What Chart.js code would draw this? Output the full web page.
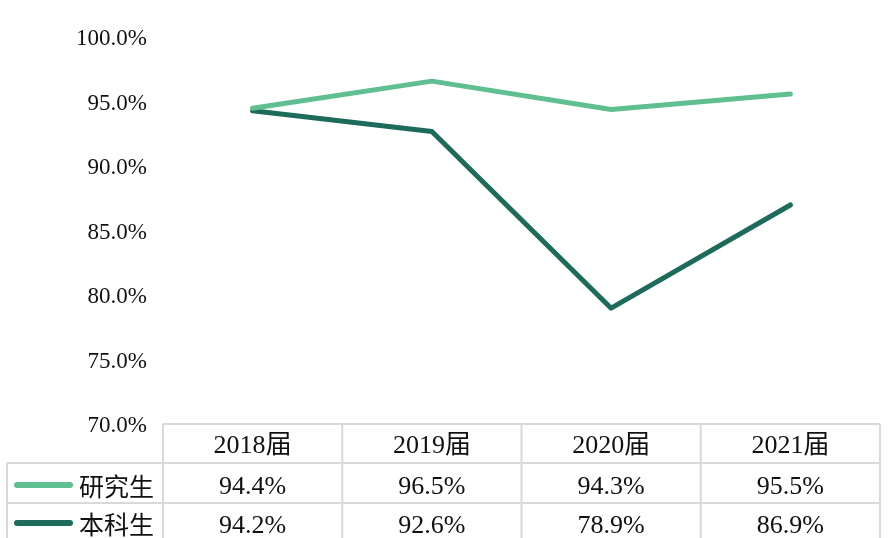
<!DOCTYPE html>
<html>
<head>
<meta charset="utf-8">
<script src="https://cdn.jsdelivr.net/npm/chart.js@4"></script>
<style>
  html, body { margin: 0; padding: 0; background: #fff; }
  #wrap { width: 891px; height: 538px; }
</style>
</head>
<body>
<div id="wrap"><canvas id="rate-chart"></canvas></div>
<script>
'use strict';

// *************** DATA
let categories = ['2018届', '2019届', '2020届', '2021届'];
let seriesNames = ['研究生', '本科生'];
let gradRates = [94.4, 96.5, 94.3, 95.5];
let undergradRates = [94.2, 92.6, 78.9, 86.9];
let yMin = 70;
let yMax = 100;
let yStep = 5;

let lightGreen = '#5fbf91';
let darkTeal = '#1c6b5b';
let serifFont = '"Liberation Serif", "Noto Sans CJK SC", serif';

// ************** TABLE UNDER THE CHART
let tablePlugin = {
  id: 'dataTable',
  afterDraw(chart) {
    let c = chart.ctx;
    let area = chart.chartArea;
    let x = chart.scales.x;
    let top = area.bottom + 1;
    let rowLines = [top, top + 39, top + 79, top + 120];
    let legendLeft = 7;

    // column edges
    let edges = [area.left];
    for (let i = 0; i < categories.length - 1; i++) {
      edges.push((x.getPixelForValue(i) + x.getPixelForValue(i + 1)) / 2);
    }
    edges.push(area.right);

    c.save();
    c.strokeStyle = '#d9d9d9';
    c.lineWidth = 2;
    c.beginPath();
    // header top
    c.moveTo(area.left, rowLines[0]);
    c.lineTo(area.right, rowLines[0]);
    // row separators
    for (let r = 1; r < 3; r++) {
      c.moveTo(legendLeft, rowLines[r]);
      c.lineTo(area.right, rowLines[r]);
    }
    for (let e of edges) {
      c.moveTo(e, rowLines[0]);
      c.lineTo(e, rowLines[3]);
    }
    c.moveTo(legendLeft, rowLines[1]);
    c.lineTo(legendLeft, rowLines[3]);
    c.stroke();

    c.fillStyle = '#111';
    c.textAlign = 'center';
    c.textBaseline = 'middle';
    c.font = '26px ' + serifFont;
    for (let i = 0; i < categories.length; i++) {
      let cx = x.getPixelForValue(i);
      c.fillText(categories[i], cx, rowLines[0] + 22);
      c.fillText(gradRates[i].toFixed(1) + '%', cx, rowLines[1] + 24);
      c.fillText(undergradRates[i].toFixed(1) + '%', cx, rowLines[2] + 23);
    }

    // legend cells
    let colors = [lightGreen, darkTeal];
    let rowMids = [rowLines[1] + 22, rowLines[2] + 20];
    for (let s = 0; s < seriesNames.length; s++) {
      c.strokeStyle = colors[s];
      c.lineWidth = 6;
      c.lineCap = 'round';
      c.beginPath();
      c.moveTo(17, rowMids[s]);
      c.lineTo(70, rowMids[s]);
      c.stroke();
      c.fillStyle = '#111';
      c.textAlign = 'left';
      c.font = '25px "Noto Sans CJK SC", sans-serif';
      c.fillText(seriesNames[s], 79, rowMids[s] + 1);
    }
    c.restore();
  }
};

// ************** CHART
let ctx = document.getElementById('rate-chart');

new Chart(ctx, { // eslint-disable-line
  type: 'line',
  data: {
    labels: categories,
    datasets: [{
      label: seriesNames[0],
      data: gradRates,
      borderColor: lightGreen,
      backgroundColor: lightGreen,
      borderWidth: 5,
      pointRadius: 0,
      tension: 0,
      borderCapStyle: 'round',
      borderJoinStyle: 'round'
    },
    {
      label: seriesNames[1],
      data: undergradRates,
      borderColor: darkTeal,
      backgroundColor: darkTeal,
      borderWidth: 5,
      pointRadius: 0,
      tension: 0,
      borderCapStyle: 'round',
      borderJoinStyle: 'round'
    }]
  },
  options: {
    responsive: true,
    maintainAspectRatio: false,
    animation: false,
    layout: {
      padding: { top: 36, right: 11, bottom: 115, left: 0 }
    },
    plugins: {
      legend: { display: false },
      tooltip: { enabled: false }
    },
    scales: {
      x: {
        display: false,
        offset: true
      },
      y: {
        min: yMin,
        max: yMax,
        border: { display: false },
        grid: { display: false },
        afterFit(scale) {
          scale.width = 163;
        },
        ticks: {
          stepSize: yStep,
          padding: 8,
          labelOffset: 3,
          color: '#111',
          font: { family: serifFont, size: 23 },
          callback: (v) => v.toFixed(1) + '%'
        }
      }
    }
  },
  plugins: [tablePlugin]
});
</script>
</body>
</html>
